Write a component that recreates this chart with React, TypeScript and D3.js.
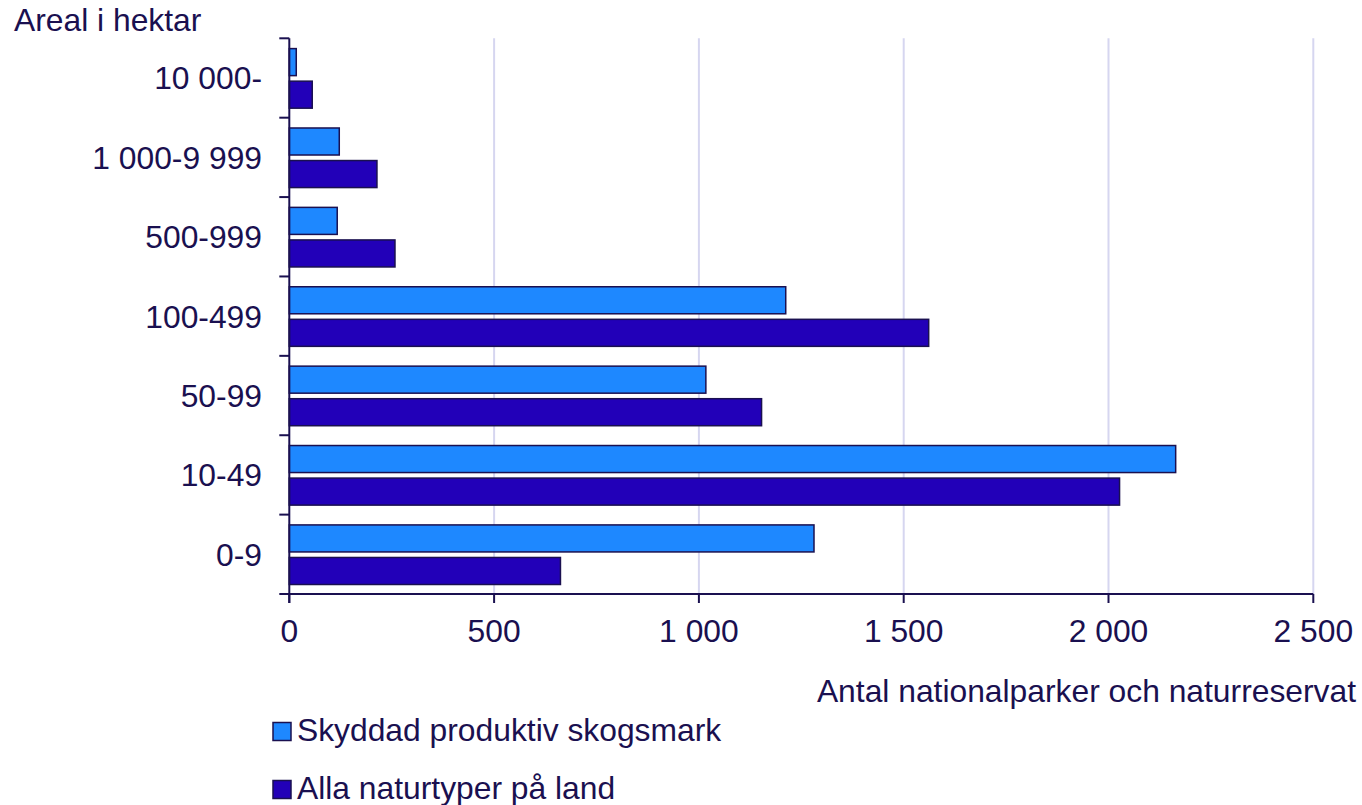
import React from "react";
import * as d3 from "d3";

const categories = ["10 000-", "1 000-9 999", "500-999", "100-499", "50-99", "10-49", "0-9"];
const seriesNames = ["Skyddad produktiv skogsmark", "Alla naturtyper på land"];
const skogsmark = [17, 122, 117, 1212, 1017, 2164, 1281];
const allaNaturtyper = [56, 214, 258, 1561, 1153, 2027, 662];
const xTicks = [0, 500, 1000, 1500, 2000, 2500];
const seriesColors = ["#1E88FF", "#2200B8"];

const W = 1362;
const H = 805;
const TEXT = "#1A1050";
const FONT = "'Liberation Sans', Arial, sans-serif";
const FS = 31.8;

export default function App() {
  const x = d3.scaleLinear().domain([0, 2500]).range([289.3, 1313.3]);
  const y = d3.scaleBand<string>().domain(categories).range([38.3, 594]).padding(0);
  const inner = d3
    .scaleBand<string>()
    .domain(seriesNames)
    .range([10.3, y.bandwidth() - 9.5])
    .paddingInner(0.17)
    .paddingOuter(0);
  const values = [skogsmark, allaNaturtyper];
  const fmt = (v: number) => d3.format(",")(v).replace(/,/g, " ");
  const x0 = x(0);
  const yBottom = 594;
  const yTop = 38.3;

  return (
    <svg
      width={W}
      height={H}
      style={{ position: "absolute", left: 0, top: 0, background: "#fff" }}
      fontFamily={FONT}
    >
      {/* gridlines */}
      {xTicks.slice(1).map((t) => (
        <line key={"g" + t} x1={x(t)} x2={x(t)} y1={yTop} y2={yBottom} stroke="#D6D6F0" strokeWidth={2} />
      ))}
      {/* bars */}
      {categories.map((c, i) =>
        seriesNames.map((s, j) => (
          <rect
            key={c + s}
            x={x0}
            y={(y(c) as number) + (inner(s) as number)}
            width={x(values[j][i]) - x0}
            height={inner.bandwidth()}
            fill={seriesColors[j]}
            stroke={TEXT}
            strokeWidth={1.5}
          />
        ))
      )}
      {/* y axis */}
      <line x1={x0} x2={x0} y1={yTop} y2={yBottom + 9} stroke={TEXT} strokeWidth={2} />
      {[...categories.map((c) => y(c) as number), yBottom].map((v, i) => (
        <line key={"yt" + i} x1={x0 - 10} x2={x0} y1={v} y2={v} stroke={TEXT} strokeWidth={2} />
      ))}
      {categories.map((c) => (
        <text
          key={"yl" + c}
          x={262}
          y={(y(c) as number) + y.bandwidth() / 2 + 11.5}
          textAnchor="end"
          fontSize={FS}
          fill={TEXT}
        >
          {c}
        </text>
      ))}
      {/* x axis */}
      <line x1={x0} x2={x(2500)} y1={yBottom} y2={yBottom} stroke={TEXT} strokeWidth={2} />
      {xTicks.map((t) => (
        <g key={"xt" + t}>
          <line x1={x(t)} x2={x(t)} y1={yBottom} y2={yBottom + 9} stroke={TEXT} strokeWidth={2} />
          <text x={x(t)} y={641.5} textAnchor="middle" fontSize={FS} fill={TEXT}>
            {fmt(t)}
          </text>
        </g>
      ))}
      {/* titles */}
      <text x={14} y={31} fontSize={FS} fill={TEXT}>
        Areal i hektar
      </text>
      <text x={1356} y={702} textAnchor="end" fontSize={FS} fill={TEXT}>
        Antal nationalparker och naturreservat
      </text>
      {/* legend */}
      {seriesNames.map((s, j) => (
        <g key={"lg" + s} transform={`translate(0, ${j * 58})`}>
          <rect x={273} y={722.5} width={18} height={18} fill={seriesColors[j]} stroke={TEXT} strokeWidth={1.5} />
          <text x={297} y={741} fontSize={FS} fill={TEXT}>
            {s}
          </text>
        </g>
      ))}
    </svg>
  );
}
